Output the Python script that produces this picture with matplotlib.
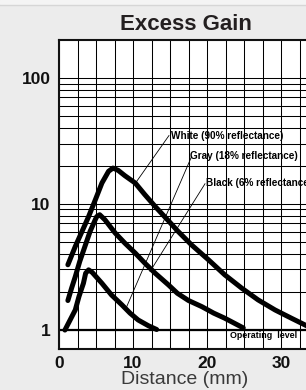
import numpy as np
import matplotlib
matplotlib.use("Agg")
import matplotlib.pyplot as plt
from matplotlib import ticker
from matplotlib.lines import Line2D

# curves (distance mm, excess gain)
white_x = [1.2, 2.2, 3.1, 4.0, 4.9, 5.8, 6.7, 7.3, 8.0, 8.9, 10.3, 11.6, 13.0, 14.8,
           16.0, 17.9, 20.2, 22.4, 24.7, 26.9, 29.2, 31.4, 33.2, 34.5]
white_y = [3.27, 4.57, 6.0, 7.9, 10.7, 14.6, 18.1, 19.2, 18.4, 16.7, 14.6, 11.8, 9.5, 7.3,
           6.1, 4.71, 3.58, 2.72, 2.13, 1.72, 1.43, 1.23, 1.09, 1.0]

gray_x = [1.2, 1.7, 2.2, 2.8, 3.5, 4.2, 4.9, 5.1, 5.5, 6.2, 7.6, 8.9, 10.3, 11.6,
          13.0, 14.8, 16.0, 17.5, 19.3, 20.9, 22.4, 24.9]
gray_y = [1.70, 2.13, 2.63, 3.47, 4.57, 6.02, 7.46, 7.9, 8.17, 7.46, 5.84, 4.86, 4.05, 3.37,
          2.80, 2.26, 1.94, 1.70, 1.52, 1.35, 1.23, 1.03]

black_x = [0.8, 1.5, 2.2, 2.7, 3.3, 3.6, 4.0, 4.5, 5.8, 7.1, 8.5, 9.6, 10.7, 12.1, 13.2]
black_y = [0.99, 1.19, 1.43, 1.83, 2.33, 2.8, 2.98, 2.84, 2.33, 1.88, 1.57, 1.35, 1.19, 1.07, 1.0]

labels = ["White (90% reflectance)", "Gray (18% reflectance)", "Black (6% reflectance)"]
label_xy = [(15.07, 34.8), (17.7, 24.1), (19.8, 14.7)]
# leader lines: (label end, curve end)
leaders = [((14.86, 34.8), (10.27, 14.4)),
           ((17.93, 23.8), (9.15, 1.52)),
           ((19.73, 14.4), (12.3, 2.89))]

x_ticks = [0, 10, 20, 30]
y_ticks = [1, 10, 100]
y_minor = [2, 3, 4, 5, 6, 7, 8, 9, 20, 30, 40, 50, 60, 70, 80, 90]

W, H = 306, 390
fig = plt.figure(figsize=(W / 100, H / 100), dpi=100, facecolor="#ececec")
fig.add_artist(Line2D([0, 1], [1 - 4.5 / H] * 2, color="#d6d6d6", lw=1.0))
fig.patches.append(plt.Rectangle((0, 1 - 4 / H), 1, 4 / H, transform=fig.transFigure,
                                 color="#f4f4f4", zorder=0))

ax = fig.add_axes([59 / W, 41 / H, 35 * 7.4 / W, 309 / H])
ax.set_facecolor("white")
ax.set_yscale("log")
ax.set_xlim(0, 35)
ax.set_ylim(0.7, 200)

ax.xaxis.set_major_locator(ticker.FixedLocator(x_ticks))
ax.xaxis.set_minor_locator(ticker.MultipleLocator(2.5))
ax.yaxis.set_major_locator(ticker.FixedLocator(y_ticks))
ax.yaxis.set_minor_locator(ticker.FixedLocator(y_minor))
ax.yaxis.set_major_formatter(ticker.FixedFormatter([str(v) for v in y_ticks]))
ax.yaxis.set_minor_formatter(ticker.NullFormatter())
ax.tick_params(which="both", length=0)
ax.tick_params(axis="y", pad=6)
ax.tick_params(axis="x", pad=5)
for t in ax.get_xticklabels() + ax.get_yticklabels():
    t.set_fontfamily("Liberation Sans")
    t.set_fontweight("bold")
    t.set_fontsize(12.5)
    t.set_color("#111111")

ax.grid(True, which="both", color="black", lw=0.75)
ax.set_axisbelow(True)
for s in ax.spines.values():
    s.set_linewidth(1.5)
    s.set_color("#111111")

ax.axhline(1, color="black", lw=1.6, zorder=2)

for xs, ys in [(white_x, white_y), (gray_x, gray_y), (black_x, black_y)]:
    ax.plot(xs, ys, color="black", lw=3.6, solid_capstyle="round",
            solid_joinstyle="round", zorder=4)

for (p0, p1) in leaders:
    ax.plot([p0[0], p1[0]], [p0[1], p1[1]], color="black", lw=0.6, zorder=3)

for txt, (tx, ty) in zip(labels, label_xy):
    ax.text(tx, ty, txt, ha="left", va="center", fontsize=7.2,
            fontfamily="Liberation Sans", fontweight="bold", zorder=5)

ax.text(27.6, 0.895, "Operating  level", ha="center", va="center", fontsize=6.4,
        fontfamily="Liberation Sans", fontweight="bold", zorder=5)

fig.text(185.5 / W, 1 - 24.5 / H, "Excess Gain", ha="center", va="center",
         fontsize=16, fontfamily="Liberation Sans", fontweight="bold", color="#231f20")
fig.text(185 / W, 1 - 380 / H, "Distance (mm)", ha="center", va="center",
         fontsize=14, fontfamily="Liberation Sans", color="#3a3a3a")

fig.savefig("out.png", dpi=100, facecolor=fig.get_facecolor())
